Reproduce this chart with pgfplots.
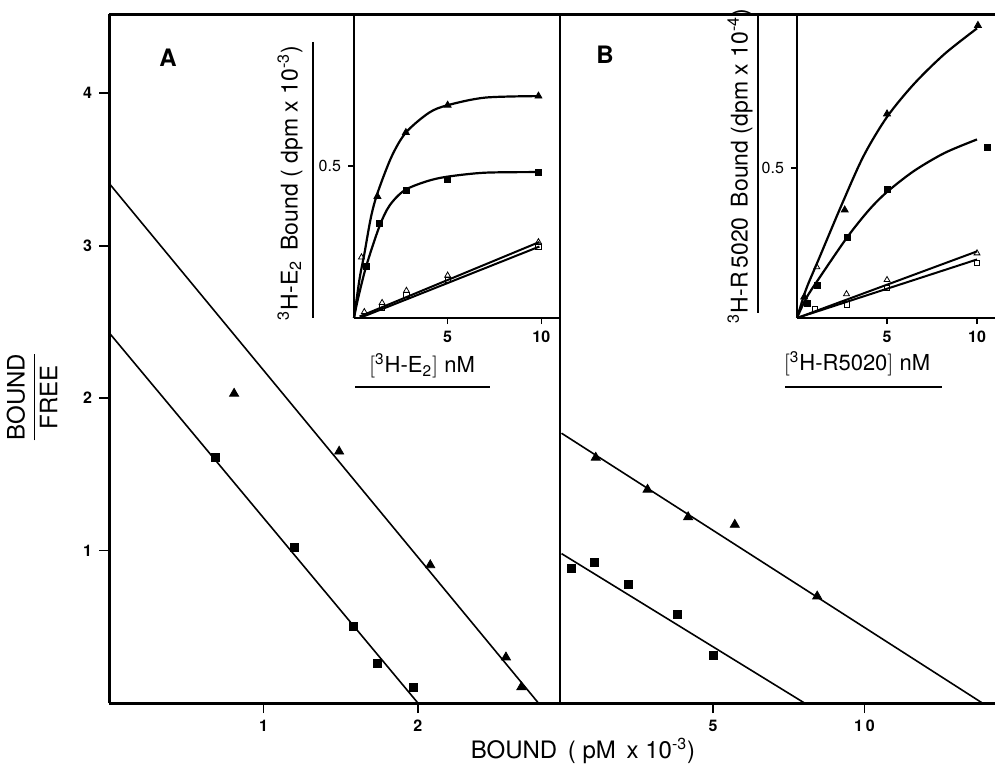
\documentclass[border=0pt]{standalone}
\usepackage{fontspec}
\setmainfont{TeX Gyre Heros}
\usepackage{pgfplots}
\pgfplotsset{compat=1.18}

% 1 px of the reference = 0.5pt
\pgfplotsset{
  panel/.style={
    scale only axis, anchor=south west, clip=false,
    axis x line*=bottom, axis y line*=left,
    axis line style={line width=1.5pt},
    tick align=outside, major tick length=5pt,
    tick style={line width=0.8pt, black},
    every tick label/.append style={font=\bfseries\footnotesize},
  },
  inset/.style={panel, axis line style={line width=1.3pt},
    major tick length=3pt, tick style={line width=0.6pt, black}},
  fit/.style={black, line width=0.8pt, no marks},
  curve/.style={black, line width=1.1pt, no marks, smooth},
  ftri/.style={only marks, black, mark=triangle*, mark size=2.6pt},
  fsq/.style={only marks, black, mark=square*, mark size=2pt},
  otri/.style={only marks, black, mark=triangle, mark size=2pt, mark options={fill=white}},
  osq/.style={only marks, black, mark=square, mark size=1.5pt, mark options={fill=white}},
  small marks/.style={
    ftri/.append style={mark size=2pt},
    fsq/.append style={mark size=1.5pt},
    otri/.append style={mark size=1.7pt},
    osq/.append style={mark size=1.3pt}},
}

\begin{document}
\begin{tikzpicture}
\useasboundingbox (0,0) rectangle (497.5pt,386.5pt);

% ---- panel A (Scatchard, E2) ----
\begin{axis}[panel, at={(54.5pt,35pt)}, width=225.5pt, height=344.5pt,
  xmin=0, xmax=2.92, ymin=0, ymax=4.52,
  xtick={1,2}, xticklabels={1,2}, ytick={1,2,3,4}, yticklabels={1,2,3,4}]
  \draw[line width=1.5pt] (rel axis cs:0,1) -- (rel axis cs:1,1);
  \addplot[fit] coordinates {(0,3.41) (2.78,0)};
  \addplot[fit] coordinates {(0,2.43) (2.0,0)};
  \addplot[ftri] coordinates {(0.81,2.03) (1.49,1.65) (2.08,0.905) (2.57,0.30) (2.67,0.105)};
  \addplot[fsq] coordinates {(0.69,1.61) (1.20,1.02) (1.58,0.50) (1.74,0.26) (1.97,0.105)};
\end{axis}

% ---- panel B (Scatchard, R5020) ----
\begin{axis}[panel, at={(280pt,35pt)}, width=217.5pt, height=344.5pt,
  y axis line style={line width=1pt},
  xmin=-0.05, xmax=14.31, ymin=0, ymax=4.52,
  xtick={5,10}, xticklabels={5,1\,0}, ytick=\empty]
  \draw[line width=1.5pt] (rel axis cs:0,1) -- (rel axis cs:1,1);
  \addplot[fit] coordinates {(0,1.77) (13.89,0)};
  \addplot[fit] coordinates {(0,0.98) (8.02,0)};
  \addplot[ftri] coordinates {(1.13,1.61) (2.84,1.40) (4.18,1.22) (5.72,1.17) (8.44,0.70)};
  \addplot[fsq] coordinates {(0.34,0.885) (1.07,0.92) (2.21,0.78) (3.82,0.58) (5.0,0.315)};
\end{axis}

% ---- inset A: saturation, 3H-E2 ----
\begin{axis}[inset, small marks, at={(177pt,227.5pt)}, width=103pt, height=152pt,
  xmin=0, xmax=11, ymin=0, ymax=1.0,
  xtick={5,10}, xticklabels={5,10}, ytick={0.5}, yticklabels={0.5},
  yticklabel style={font=\footnotesize}]
  \addplot[curve] coordinates {(0,0) (0.3,0.13) (0.55,0.21) (0.9,0.33) (1.25,0.41)
    (2.0,0.53) (2.77,0.61) (4.0,0.675) (5.0,0.70) (7.0,0.725) (9.9,0.73)};
  \addplot[curve] coordinates {(0,0) (0.2,0.06) (0.65,0.17) (1.35,0.30) (1.9,0.37)
    (2.7,0.42) (3.9,0.45) (5.0,0.465) (7.0,0.478) (9.9,0.48)};
  \addplot[fit, line width=1pt] coordinates {(0.3,0.005) (9.9,0.25)};
  \addplot[fit, line width=1pt] coordinates {(0.3,0) (9.9,0.235)};
  \addplot[ftri] coordinates {(1.25,0.40) (2.77,0.61) (5.0,0.70) (9.85,0.73)};
  \addplot[otri] coordinates {(0.4,0.2) (0.55,0.02) (1.5,0.05) (2.8,0.09) (5.0,0.14) (9.85,0.25)};
  \addplot[fsq] coordinates {(0.65,0.17) (1.35,0.31) (2.8,0.42) (5.0,0.455) (9.85,0.48)};
  \addplot[osq] coordinates {(1.5,0.035) (2.8,0.075) (5.0,0.125) (9.85,0.235)};
\end{axis}

% ---- inset B: saturation, 3H-R5020 ----
\begin{axis}[inset, small marks, at={(398.5pt,227.5pt)}, width=99pt, height=152pt,
  xmin=0, xmax=11, ymin=0, ymax=1.013,
  xtick={5,10}, xticklabels={5,10}, ytick={0.5}, yticklabels={0.5},
  yticklabel style={font=\footnotesize}]
  \addplot[curve] coordinates {(0,0) (0.5,0.095) (1.2,0.195) (2.5,0.38) (3.7,0.54)
    (5.0,0.67) (6.5,0.78) (8.2,0.88) (10,0.965)};
  \addplot[curve] coordinates {(0,0) (0.5,0.065) (1.2,0.13) (2.8,0.27) (4.0,0.36)
    (5.0,0.42) (6.5,0.49) (8.2,0.55) (10,0.595)};
  \addplot[fit, line width=1pt] coordinates {(0,0) (10,0.222)};
  \addplot[fit, line width=1pt] coordinates {(0,0) (10,0.195)};
  \addplot[ftri] coordinates {(0.4,0.07) (2.65,0.36) (5.0,0.68) (10.05,0.975)};
  \addplot[otri] coordinates {(1.1,0.17) (2.75,0.08) (5.0,0.127) (10,0.216)};
  \addplot[fsq] coordinates {(0.6,0.05) (1.15,0.11) (2.8,0.27) (5.0,0.43) (10.6,0.57)};
  \addplot[osq] coordinates {(1.0,0.03) (2.75,0.045) (5.0,0.10) (10,0.183)};
\end{axis}

% ---- labels ----
\node[font=\bfseries\large] at (84pt,357.5pt) {A};
\node[font=\bfseries\large] at (302.5pt,359pt) {B};
\node[rotate=90, font=\fontsize{12}{14}\selectfont] at (16pt,188pt)
  {$\displaystyle\frac{\mbox{BOUND}}{\mbox{FREE}}$};
\node[font=\fontsize{12}{14}\selectfont] at (291.5pt,11pt)
  {BOUND \,( pM \,x 10\textsuperscript{-3})};

\node[rotate=90, font=\fontsize{11.5}{13}\selectfont] at (145pt,295pt)
  {\textsuperscript{3}H-E\textsubscript{2} \,Bound ( dpm x 10\textsuperscript{-3})};
\draw[line width=0.8pt] (156.5pt,365.5pt) -- (156.5pt,227.5pt);
\node[rotate=90, font=\fontsize{11.5}{13}\selectfont] at (370pt,303.5pt)
  {\textsuperscript{3}H-R\,5020 \,Bound (dpm x 10\textsuperscript{-4})};
\draw[line width=0.8pt] (379pt,379pt) -- (379pt,230pt);

\node[font=\fontsize{11}{13}\selectfont] at (211pt,203.5pt)
  {$\bigl[$\textsuperscript{3}H-E\textsubscript{2}$\bigr]$ nM};
\draw[line width=0.8pt] (177.5pt,193pt) -- (245pt,193pt);
\node[font=\fontsize{11}{13}\selectfont] at (428.5pt,204.5pt)
  {$\bigl[$\textsuperscript{3}H-R5020$\bigr]$ nM};
\draw[line width=0.8pt] (392.5pt,193pt) -- (471pt,193pt);
\end{tikzpicture}
\end{document}
